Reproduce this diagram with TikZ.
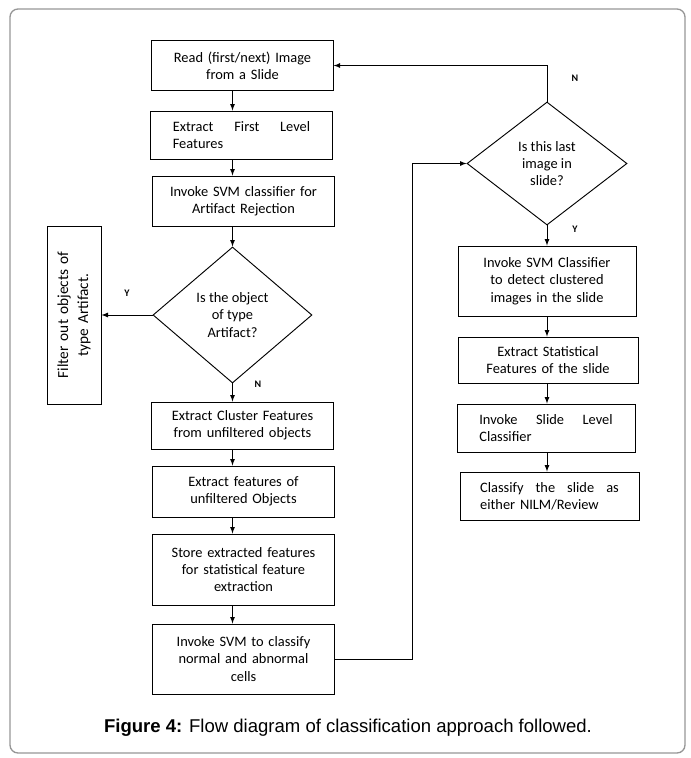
\documentclass[tikz,border=0pt]{standalone}
\usepackage{fontspec}
\setmainfont{Carlito}
\newfontfamily\capfont{Liberation Sans}
\usetikzlibrary{arrows}
\usetikzlibrary{shapes.geometric}
\definecolor{framegray}{RGB}{150,150,150}

\begin{document}
\begin{tikzpicture}
	[x=0.75pt,y=-0.75pt,>=latex,line width=0.7pt,
	every node/.style={font=\fontsize{10.8}{13}\selectfont},
	box/.style={draw,rectangle,inner sep=2pt,align=center,text width=120pt},
	jbox/.style={box,align=left,text width=103pt},
	dec/.style={draw,diamond,inner sep=0pt,align=center},
	lbl/.style={font=\bfseries\fontsize{7.5}{9}\selectfont}]
	\useasboundingbox (0,0) rectangle (691,758);
	\draw[framegray,line width=1pt,rounded corners=6pt] (10,9) rectangle (685,753);
	% left column
	\node[box,minimum width=136pt,minimum height=37pt] (read) at (242.5,65.5) {Read (first/next) Image\\from a Slide};
	\node[jbox,minimum width=137pt,minimum height=36pt] (first) at (241.5,135) {Extract\hfill First\hfill Level\\Features};
	\node[box,minimum width=137pt,minimum height=37.5pt] (svm1) at (243.5,201) {Invoke SVM classifier for\\Artifact Rejection};
	\node[dec,minimum width=119.25pt,minimum height=102pt] (dec1) at (232.5,315) {Is the object\\of type\\Artifact?};
	\node[box,rotate=90,minimum width=133.5pt,minimum height=40.5pt,font=\fontsize{11.5}{15}\selectfont] (filter) at (74,315) {Filter out objects of\\type Artifact.};
	\node[box,minimum width=136pt,minimum height=35.25pt] (cluster) at (242.5,425.5) {Extract Cluster Features\\from unfiltered objects};
	\node[box,minimum width=137pt,minimum height=38.25pt] (feat) at (243.5,491.5) {Extract features of\\unfiltered Objects};
	\node[box,minimum width=137pt,minimum height=53.25pt] (store) at (243.5,569.5) {Store extracted features\\for statistical feature\\extraction};
	\node[box,minimum width=137pt,minimum height=52.5pt] (svm2) at (243.5,659) {Invoke SVM to classify\\normal and abnormal\\cells};
	% right column
	\node[dec,minimum width=120pt,minimum height=92.25pt] (dec2) at (547,163.5) {Is this last\\image in\\slide?};
	\node[box,minimum width=133.5pt,minimum height=52.5pt] (rsvm) at (547,281) {Invoke SVM Classifier\\to detect clustered\\images in the slide};
	\node[box,minimum width=135pt,minimum height=34.5pt] (stat) at (548,360) {Extract Statistical\\Features of the slide};
	\node[jbox,minimum width=133.5pt,minimum height=36pt,text width=100pt] (slvl) at (546,428) {Invoke\hfill Slide\hfill Level\\Classifier};
	\node[jbox,minimum width=134.25pt,minimum height=36pt,text width=104pt] (cls) at (549.5,496) {Classify\hfill the\hfill slide\hfill as\\either NILM/Review};
	% labels
	\node[lbl] (ly1) at (127,293) {Y};
	\node[lbl] (ln1) at (258,384) {N};
	\node[lbl] (ln2) at (575,78) {N};
	\node[lbl] (ly2) at (575,229) {Y};
	\node[font=\capfont\fontsize{13.9}{16}\selectfont] (cap) at (348,728) {\textbf{Figure 4:} Flow diagram of classification approach followed.};

	\foreach \from/\to/\col in
	{read/first/dec1, first/svm1/dec1, svm1/dec1/dec1, dec1/cluster/dec1, cluster/feat/dec1, feat/store/dec1, store/svm2/dec1,
	dec2/rsvm/dec2, rsvm/stat/dec2, stat/slvl/dec2, slvl/cls/dec2}
	\draw[->] (\from.south -| \col) -- (\to.north -| \col);
	\draw[->] (dec1.west) -- (filter.south);
	\draw[->] (svm2.east) -- ++(77,0) |- (dec2.west);
	\draw[->] (dec2.north) |- (read.east);
\end{tikzpicture}
\end{document}
